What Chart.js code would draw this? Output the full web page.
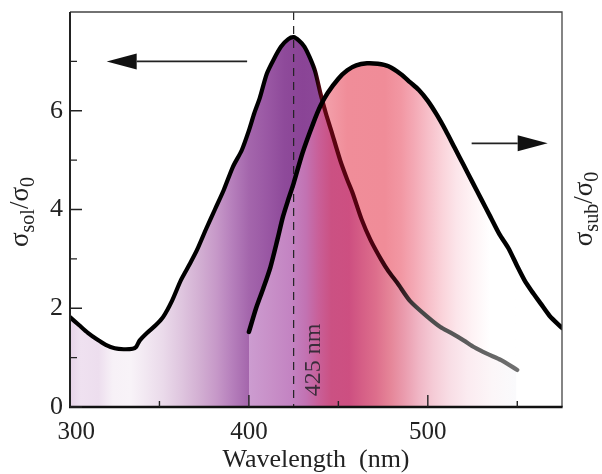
<!DOCTYPE html>
<html><head><meta charset="utf-8">
<script src="https://cdn.jsdelivr.net/npm/chart.js@4/dist/chart.umd.min.js"></script>
<style>html,body{margin:0;padding:0;background:#fff;}#wrap{width:602px;height:474px;}</style>
</head><body><div id="wrap"><canvas id="c" width="602" height="474"></canvas></div>
<script>
// ---- data ----
const solWavelengths = [300,305,310,315,320,325,330,335,337,339,343,348,352,357,362,367,371,376,381,386,391,396,400,403,406,410,414,418,422,425,428,431,434,437,440,443,446,451,455,458,463,468,474,478,483,490,500,507,513,520,526,533,541,550];
const solValues      = [1.82,1.66,1.5,1.37,1.26,1.19,1.17,1.18,1.22,1.35,1.5,1.66,1.82,2.15,2.57,2.9,3.18,3.6,4.0,4.4,4.86,5.2,5.6,5.95,6.25,6.75,7.05,7.3,7.45,7.49,7.42,7.3,7.08,6.8,6.35,5.95,5.6,5.0,4.6,4.33,3.8,3.38,2.98,2.75,2.51,2.15,1.82,1.62,1.5,1.35,1.21,1.08,0.95,0.75];
const subWavelengths = [400,404,408,412,416,419,422,425,430,436,440,444,450,455,460,466,472,478,485,490,495,500,505,510,515,520,525,530,535,540,545,550,554,558,563,568,575];
const subValues      = [1.52,2.0,2.4,2.83,3.4,3.85,4.2,4.53,5.15,5.75,6.1,6.36,6.65,6.82,6.92,6.96,6.95,6.9,6.74,6.58,6.42,6.2,5.92,5.6,5.25,4.9,4.55,4.2,3.85,3.5,3.22,2.85,2.57,2.35,2.1,1.85,1.6];
const xTickLabels = [300,400,500];
const xMinorTicks = [350,450,550];
const yTickLabels = [0,2,4,6];
const yMinorTicks = [1,3,5,7];
const peakWavelength = 425;
const peakLabel = '425 nm';
const xTitle = 'Wavelength  (nm)';
const leftTitle = [['σ',0],['sol',1],['/σ',0],['0',1]];
const rightTitle = [['σ',0],['sub',1],['/σ',0],['0',1]];
const leftArrow = {from:[399,7.0], to:[320.5,7.0]};
const rightArrow = {from:[524.5,5.34], to:[567,5.34]};

// ---- styles ----
const FONT = "'Liberation Serif','Times New Roman',serif";
const solFillStops = [[300,'#e6d3e8'],[306,'#efe1f0'],[316,'#eddeee'],[324,'#f7f1f7'],[334,'#f8f3f8'],[342,'#f2e8f2'],[352,'#eadaea'],[362,'#dfc6df'],[372,'#d3b0d3'],[382,'#c698c8'],[391,'#b57ebb'],[400,'#a466ac'],
  [400.2,'#cc9cd0'],[412,'#c890c8'],[424,'#c383c2'],[432,'#c272b2'],[439,'#c95f98'],[446,'#cb5183'],[456,'#cd4f81'],[463,'#d55e86'],[471,'#dd6e8c'],[479,'#e58598'],[487,'#ea9cae'],[495,'#f0b6c5'],[503,'#f5cbd6'],[512,'#f8dde5'],[522,'#fbebf0'],[536,'#fcf6f8'],[549,'#fafafc'],[550,'rgba(255,255,255,0)']];
const subAboveStops = [[436,'#f3a6b0'],[446,'#f29ba6'],[455,'#f08d99'],[476,'#f08c98'],[485,'#f297a3'],[492,'#f4a8b4'],[500,'#f7bec8'],[508,'#fad3da'],[516,'#fce5ea'],[525,'#fef3f5'],[535,'#ffffff'],[549,'#ffffff'],[550,'rgba(255,255,255,0)']];
const subBelowStops = [[400,'#a466ac'],[410,'#9a58a4'],[420,'#8e4a9a'],[430,'#8a4496'],[440,'#8c4898'],[460,'#8c4898']];
const solLineStops = [[300,'#000'],[436,'#000'],[441,'#5e0612'],[468,'#4e0010'],[482,'#2a0a10'],[494,'#444'],[515,'#585858'],[550,'#707070']];

function makeGrad(chart, stops){
  const xs = chart.scales.x, ctx = chart.ctx;
  const g = ctx.createLinearGradient(xs.getPixelForValue(xs.min),0,xs.getPixelForValue(xs.max),0);
  stops.forEach(([wl,c]) => g.addColorStop(Math.min(1,Math.max(0,(wl-xs.min)/(xs.max-xs.min))), c));
  return g;
}
const ready = c => c.chart.chartArea && c.chart.scales.x;

function drawSubText(ctx, parts, cx, cy, size, subSize, subShift){
  ctx.save();
  ctx.translate(cx, cy);
  ctx.rotate(-Math.PI/2);
  ctx.textBaseline = 'alphabetic';
  ctx.textAlign = 'left';
  let total = 0;
  const ws = parts.map(([t,s]) => { ctx.font = (s?subSize:size)+'px '+FONT; const w = ctx.measureText(t).width; total += w; return w; });
  let x = -total/2;
  parts.forEach(([t,s],i) => { ctx.font = (s?subSize:size)+'px '+FONT; ctx.fillText(t, x, s?subShift:0); x += ws[i]; });
  ctx.restore();
}
function arrow(ctx, xs, ys, a){
  const x0 = xs.getPixelForValue(a.from[0]), y0 = ys.getPixelForValue(a.from[1]);
  const x1 = xs.getPixelForValue(a.to[0]), y1 = ys.getPixelForValue(a.to[1]);
  const dir = Math.sign(x1-x0), head = 30, hw = 8;
  ctx.save();
  ctx.strokeStyle = '#222'; ctx.fillStyle = '#111'; ctx.lineWidth = 1.6;
  ctx.beginPath(); ctx.moveTo(x0,y0); ctx.lineTo(x1-dir*head, y1); ctx.stroke();
  ctx.beginPath(); ctx.moveTo(x1,y1); ctx.lineTo(x1-dir*head,y1-hw); ctx.lineTo(x1-dir*head,y1+hw); ctx.closePath(); ctx.fill();
  ctx.restore();
}

const deco = {
  id:'deco',
  beforeDatasetsDraw(chart){
    const {ctx, chartArea:a, scales:{x}} = chart;
    const px = x.getPixelForValue(peakWavelength);
    ctx.save();
    ctx.strokeStyle = '#222'; ctx.lineWidth = 1.2; ctx.setLineDash([8,6]);
    ctx.beginPath(); ctx.moveTo(px, a.top); ctx.lineTo(px, a.bottom); ctx.stroke();
    ctx.restore();
  },
  afterDatasetsDraw(chart){
    const {ctx, chartArea:a, scales:{x}} = chart;
    const px = x.getPixelForValue(peakWavelength);
    ctx.save();
    ctx.translate(px+26, a.bottom-47);
    ctx.rotate(-Math.PI/2);
    ctx.font = '24px '+FONT; ctx.fillStyle = '#3a2c3a';
    ctx.textAlign = 'center'; ctx.textBaseline = 'alphabetic';
    ctx.fillText(peakLabel, 0, 0);
    ctx.restore();
  },
  afterDraw(chart){
    const {ctx, chartArea:a, scales:{x,y}} = chart;
    ctx.save();
    ctx.strokeStyle = '#444'; ctx.lineWidth = 1.3;
    ctx.beginPath(); ctx.moveTo(a.left, a.top); ctx.lineTo(a.right, a.top); ctx.lineTo(a.right, a.bottom); ctx.stroke();
    ctx.strokeStyle = '#222'; ctx.lineWidth = 2;
    ctx.beginPath(); ctx.moveTo(a.left, a.top); ctx.lineTo(a.left, a.bottom); ctx.stroke();
    ctx.strokeStyle = '#111'; ctx.lineWidth = 2.6;
    ctx.beginPath(); ctx.moveTo(a.left-1, a.bottom); ctx.lineTo(a.right+0.6, a.bottom); ctx.stroke();
    ctx.strokeStyle = '#222'; ctx.lineWidth = 1.4;
    ctx.beginPath();
    yTickLabels.forEach(v => { const p = y.getPixelForValue(v); ctx.moveTo(a.left, p); ctx.lineTo(a.left+12, p); });
    yMinorTicks.forEach(v => { const p = y.getPixelForValue(v); ctx.moveTo(a.left, p); ctx.lineTo(a.left+7, p); });
    xTickLabels.forEach(v => { const p = x.getPixelForValue(v); ctx.moveTo(p, a.bottom); ctx.lineTo(p, a.bottom-12); });
    xMinorTicks.forEach(v => { const p = x.getPixelForValue(v); ctx.moveTo(p, a.bottom); ctx.lineTo(p, a.bottom-6); });
    ctx.stroke();
    ctx.restore();
    arrow(ctx, x, y, leftArrow);
    arrow(ctx, x, y, rightArrow);
    ctx.save(); ctx.fillStyle = '#222';
    drawSubText(ctx, leftTitle, 28, 212, 27, 20, 6);
    drawSubText(ctx, rightTitle, 592, 209, 27, 20, 6);
    ctx.restore();
  }
};

new Chart(document.getElementById('c'), {
  type:'line',
  data:{
    datasets:[
      { label:'σsol/σ0', data: solWavelengths.map((w,i)=>({x:w,y:solValues[i]})),
        order:2, borderWidth:4.2, tension:0.25, pointRadius:0,
        borderCapStyle:'round', borderJoinStyle:'round',
        borderColor: c => ready(c) ? makeGrad(c.chart, solLineStops) : '#000',
        backgroundColor: c => ready(c) ? makeGrad(c.chart, solFillStops) : '#c8a0d0',
        fill:'origin' },
      { label:'σsub/σ0', data: subWavelengths.map((w,i)=>({x:w,y:subValues[i]})),
        order:1, borderWidth:4.5, tension:0.25, pointRadius:0,
        borderCapStyle:'round', borderJoinStyle:'round',
        borderColor:'#000', backgroundColor:'#f08c98',
        fill: c => ready(c) ? {target:0, above: makeGrad(c.chart, subAboveStops), below: makeGrad(c.chart, subBelowStops)} : false }
    ]
  },
  options:{
    responsive:false, animation:false, devicePixelRatio:1,
    layout:{padding:{top:12,right:40,left:0,bottom:0}},
    plugins:{legend:{display:false}, tooltip:{enabled:false}, filler:{drawTime:'beforeDatasetsDraw', propagate:false}},
    scales:{
      x:{type:'linear', min:300, max:575,
        grid:{display:false, drawTicks:false}, border:{display:false},
        afterBuildTicks: s => { s.ticks = xTickLabels.map(v=>({value:v})); },
        afterFit: s => { s.height = 67; s.paddingLeft = 0; s.paddingRight = 0; },
        ticks:{font:{family:FONT,size:25}, color:'#222', padding:10, maxRotation:0,
          callback: v => (v===xTickLabels[0] ? '\u2007' : '') + v},
        title:{display:true, text:xTitle, color:'#222', font:{family:FONT,size:26,lineHeight:1}, padding:{top:0,bottom:1}}
      },
      y:{type:'linear', min:0, max:8,
        grid:{display:false, drawTicks:false}, border:{display:false},
        afterBuildTicks: s => { s.ticks = yTickLabels.map(v=>({value:v})); },
        afterFit: s => { s.width = 70; s.paddingTop = 0; s.paddingBottom = 0; },
        ticks:{font:{family:FONT,size:26}, color:'#222', padding:7}
      }
    }
  },
  plugins:[deco]
});
</script></body></html>
